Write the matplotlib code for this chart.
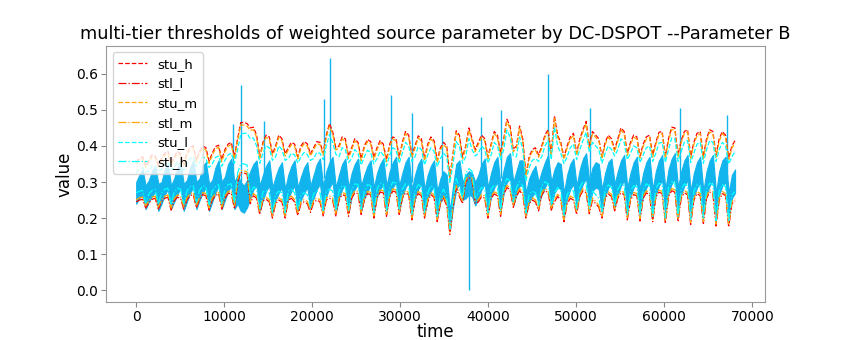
import numpy as np
import matplotlib
matplotlib.use("Agg")
import matplotlib.pyplot as plt

# sampling step of the stored series (time units)
STEP = 360

# upper thresholds
stu_h = [
    .355, .365, .370, .345,  .360, .375, .372, .348,  .365, .380, .385, .352,
    .370, .385, .378, .350,  .380, .395, .400, .360,  .385, .400, .395, .358,
    .380, .398, .402, .362,  .390, .405, .410, .370,  .420, .465, .465, .462,
    .450, .452, .430, .370,  .410, .430, .425, .378,  .400, .430, .420, .378,
    .395, .410, .405, .370,  .400, .412, .406, .378,  .395, .412, .410, .380,
    .430, .462, .440, .395,  .400, .425, .420, .372,  .395, .420, .410, .365,
    .400, .418, .412, .368,  .395, .415, .405, .362,  .405, .425, .420, .370,
    .410, .440, .430, .375,  .400, .428, .420, .365,  .405, .425, .415, .360,
    .395, .410, .400, .315,  .380, .442, .430, .370,  .400, .450, .420, .390,
    .410, .430, .420, .370,  .405, .440, .430, .380,  .420, .474, .455, .390,
    .400, .455, .420, .320,  .370, .390, .395, .375,  .400, .430, .445, .380,
    .483, .430, .410, .369,  .400, .425, .435, .380,  .420, .445, .468, .400,
    .440, .430, .420, .370,  .410, .430, .420, .390,  .420, .450, .440, .380,
    .410, .430, .425, .372,  .405, .425, .430, .375,  .410, .438, .440, .372,
    .420, .452, .450, .375,  .415, .440, .445, .372,  .410, .435, .440, .370,
    .420, .445, .440, .375,  .420, .440, .430, .368,  .400, .415,
]
stu_m = [
    .350, .360, .364, .340,  .354, .369, .366, .342,  .359, .374, .379, .346,
    .364, .379, .372, .344,  .374, .389, .394, .354,  .379, .394, .389, .352,
    .374, .392, .396, .356,  .384, .399, .404, .364,  .414, .458, .458, .455,
    .443, .445, .424, .364,  .404, .424, .419, .372,  .394, .424, .414, .372,
    .389, .404, .399, .364,  .394, .406, .400, .372,  .389, .406, .404, .374,
    .424, .455, .434, .389,  .394, .419, .414, .366,  .389, .414, .404, .359,
    .394, .412, .406, .362,  .389, .409, .399, .356,  .399, .419, .414, .364,
    .404, .434, .424, .369,  .394, .422, .414, .359,  .399, .419, .409, .354,
    .389, .404, .394, .309,  .374, .436, .424, .364,  .394, .444, .414, .384,
    .404, .424, .414, .364,  .399, .434, .424, .374,  .414, .467, .449, .384,
    .394, .449, .414, .314,  .364, .384, .389, .369,  .394, .424, .439, .374,
    .476, .424, .404, .363,  .394, .419, .429, .374,  .414, .439, .461, .394,
    .434, .424, .414, .364,  .404, .424, .414, .384,  .414, .444, .434, .374,
    .404, .424, .419, .366,  .399, .419, .424, .369,  .404, .432, .434, .366,
    .414, .446, .444, .369,  .409, .434, .439, .366,  .404, .429, .434, .364,
    .414, .439, .434, .369,  .414, .434, .424, .362,  .394, .409,
]
stu_l = [
    .325, .335, .340, .327,  .330, .345, .342, .330,  .335, .350, .355, .334,
    .340, .355, .348, .332,  .350, .365, .370, .342,  .355, .370, .365, .340,
    .350, .368, .372, .344,  .360, .375, .380, .352,  .390, .432, .435, .435,
    .420, .422, .400, .352,  .380, .400, .395, .360,  .370, .400, .390, .360,
    .365, .380, .375, .352,  .370, .382, .376, .360,  .365, .382, .380, .362,
    .400, .432, .410, .377,  .370, .395, .390, .354,  .365, .390, .380, .347,
    .370, .388, .382, .350,  .365, .385, .375, .344,  .375, .395, .390, .352,
    .380, .410, .400, .357,  .370, .398, .390, .347,  .375, .395, .385, .342,
    .365, .380, .370, .297,  .350, .412, .400, .352,  .370, .420, .390, .372,
    .380, .400, .390, .352,  .375, .410, .400, .362,  .390, .444, .425, .372,
    .370, .425, .390, .302,  .340, .360, .365, .357,  .370, .400, .415, .362,
    .453, .400, .380, .351,  .370, .395, .405, .362,  .390, .415, .438, .382,
    .410, .400, .390, .352,  .380, .400, .390, .372,  .390, .420, .410, .362,
    .380, .400, .395, .354,  .375, .395, .400, .357,  .380, .408, .410, .354,
    .390, .422, .420, .357,  .385, .410, .415, .354,  .380, .405, .410, .352,
    .390, .415, .410, .357,  .390, .410, .400, .350,  .370, .385,
]

# lower thresholds
stl_l = [
    .245, .250, .252, .228,  .242, .252, .255, .225,  .245, .255, .258, .222,
    .248, .258, .255, .225,  .250, .262, .265, .228,  .252, .265, .262, .222,
    .250, .262, .268, .225,  .255, .268, .270, .225,  .300, .326, .325, .322,
    .240, .262, .255, .210,  .248, .252, .245, .200,  .240, .250, .245, .200,
    .250, .255, .245, .207,  .240, .245, .240, .216,  .243, .250, .245, .206,
    .250, .255, .250, .206,  .250, .265, .262, .205,  .255, .270, .268, .210,
    .250, .268, .265, .200,  .255, .272, .270, .205,  .258, .275, .272, .210,
    .255, .270, .265, .195,  .250, .268, .262, .200,  .245, .265, .258, .190,
    .240, .255, .235, .155,  .230, .285, .260, .240,  .300, .312, .305, .240,
    .245, .260, .255, .200,  .255, .267, .262, .205,  .265, .285, .278, .230,
    .260, .276, .265, .200,  .240, .250, .245, .220,  .265, .276, .270, .222,
    .245, .260, .250, .190,  .240, .255, .250, .210,  .260, .276, .270, .212,
    .250, .240, .230, .200,  .255, .267, .260, .220,  .255, .270, .265, .195,
    .250, .265, .262, .192,  .255, .270, .265, .190,  .258, .272, .268, .185,
    .260, .276, .272, .190,  .255, .270, .265, .182,  .250, .268, .262, .185,
    .255, .272, .268, .178,  .250, .268, .262, .175,  .240, .248,
]
stl_m = [
    .251, .256, .258, .234,  .248, .258, .261, .231,  .251, .261, .264, .228,
    .254, .264, .261, .231,  .256, .268, .271, .234,  .258, .271, .268, .228,
    .256, .268, .274, .231,  .261, .274, .276, .231,  .306, .332, .331, .328,
    .246, .268, .261, .216,  .254, .258, .251, .206,  .246, .256, .251, .206,
    .256, .261, .251, .213,  .246, .251, .246, .222,  .249, .256, .251, .212,
    .256, .261, .256, .212,  .256, .271, .268, .211,  .261, .276, .274, .216,
    .256, .274, .271, .206,  .261, .278, .276, .211,  .264, .281, .278, .216,
    .261, .276, .271, .201,  .256, .274, .268, .206,  .251, .271, .264, .196,
    .246, .261, .241, .161,  .236, .291, .266, .246,  .306, .318, .311, .246,
    .251, .266, .261, .206,  .261, .273, .268, .211,  .271, .291, .284, .236,
    .266, .282, .271, .206,  .246, .256, .251, .226,  .271, .282, .276, .228,
    .251, .266, .256, .196,  .246, .261, .256, .216,  .266, .282, .276, .218,
    .256, .246, .236, .206,  .261, .273, .266, .226,  .261, .276, .271, .201,
    .256, .271, .268, .198,  .261, .276, .271, .196,  .264, .278, .274, .191,
    .266, .282, .278, .196,  .261, .276, .271, .188,  .256, .274, .268, .191,
    .261, .278, .274, .184,  .256, .274, .268, .181,  .246, .254,
]
stl_h = [
    .270, .275, .277, .243,  .267, .277, .280, .240,  .270, .280, .283, .237,
    .273, .283, .280, .240,  .275, .287, .290, .243,  .277, .290, .287, .237,
    .275, .287, .293, .240,  .280, .293, .295, .240,  .325, .351, .350, .347,
    .265, .287, .280, .225,  .273, .277, .270, .215,  .265, .275, .270, .215,
    .275, .280, .270, .222,  .265, .270, .265, .231,  .268, .275, .270, .221,
    .275, .280, .275, .221,  .275, .290, .287, .220,  .280, .295, .293, .225,
    .275, .293, .290, .215,  .280, .297, .295, .220,  .283, .300, .297, .225,
    .280, .295, .290, .210,  .275, .293, .287, .215,  .270, .290, .283, .205,
    .265, .280, .260, .170,  .255, .310, .285, .255,  .325, .337, .330, .255,
    .270, .285, .280, .215,  .280, .292, .287, .220,  .290, .310, .303, .245,
    .285, .301, .290, .215,  .265, .275, .270, .235,  .290, .301, .295, .237,
    .270, .285, .275, .205,  .265, .280, .275, .225,  .285, .301, .295, .227,
    .275, .265, .255, .215,  .280, .292, .285, .235,  .280, .295, .290, .210,
    .275, .290, .287, .207,  .280, .295, .290, .205,  .283, .297, .293, .200,
    .285, .301, .297, .205,  .280, .295, .290, .197,  .275, .293, .287, .200,
    .280, .297, .293, .193,  .275, .293, .287, .190,  .265, .273,
]

# weighted source parameter: upper / lower edge of the dense signal band
signal_hi = [
    .300, .320, .335, .290,  .305, .330, .345, .295,  .300, .335, .350, .290,
    .310, .340, .355, .295,  .305, .340, .360, .300,  .310, .345, .355, .295,
    .305, .340, .360, .300,  .315, .350, .365, .300,  .320, .300, .290, .305,
    .330, .350, .360, .290,  .320, .345, .360, .285,  .315, .340, .355, .280,
    .320, .345, .360, .285,  .315, .340, .355, .290,  .320, .350, .365, .290,
    .330, .355, .370, .285,  .320, .350, .365, .285,  .325, .350, .365, .290,
    .320, .345, .360, .285,  .325, .350, .365, .290,  .330, .355, .370, .290,
    .325, .355, .370, .280,  .320, .350, .365, .280,  .320, .345, .360, .275,
    .310, .330, .320, .220,  .290, .350, .360, .300,  .320, .330, .325, .300,
    .320, .350, .365, .285,  .325, .355, .370, .290,  .335, .370, .380, .300,
    .330, .360, .360, .270,  .310, .330, .345, .300,  .330, .355, .375, .300,
    .335, .355, .350, .270,  .320, .350, .365, .290,  .335, .365, .380, .300,
    .340, .355, .350, .280,  .325, .355, .365, .295,  .330, .360, .375, .285,
    .325, .355, .370, .280,  .325, .355, .370, .280,  .330, .360, .375, .280,
    .335, .365, .380, .285,  .330, .360, .375, .275,  .325, .355, .370, .275,
    .330, .360, .375, .270,  .330, .360, .370, .270,  .320, .335,
]
signal_lo = [
    .240, .255, .265, .225,  .245, .260, .275, .220,  .240, .265, .280, .225,
    .245, .265, .285, .220,  .245, .270, .285, .225,  .250, .270, .285, .220,
    .245, .270, .290, .225,  .250, .275, .290, .225,  .240, .220, .215, .230,
    .255, .280, .290, .220,  .250, .275, .290, .215,  .250, .270, .285, .215,
    .255, .275, .290, .220,  .250, .270, .285, .225,  .255, .280, .295, .220,
    .260, .285, .300, .215,  .255, .280, .295, .215,  .260, .280, .295, .220,
    .255, .275, .290, .215,  .260, .280, .295, .220,  .265, .285, .300, .220,
    .260, .285, .300, .210,  .255, .280, .295, .210,  .255, .275, .290, .205,
    .245, .260, .250, .165,  .230, .280, .295, .250,  .255, .265, .260, .235,
    .255, .280, .295, .215,  .260, .285, .300, .220,  .270, .300, .310, .235,
    .265, .290, .290, .210,  .245, .260, .275, .240,  .265, .285, .305, .235,
    .270, .285, .280, .205,  .255, .280, .295, .225,  .270, .295, .310, .235,
    .275, .285, .280, .215,  .260, .285, .295, .230,  .265, .290, .305, .220,
    .260, .285, .300, .215,  .260, .285, .300, .215,  .265, .290, .305, .215,
    .270, .295, .310, .220,  .265, .290, .305, .210,  .260, .285, .300, .210,
    .265, .290, .305, .205,  .265, .290, .300, .205,  .255, .270,
]

# isolated excursions of the signal
spike_time = [11020, 11930, 14550, 21360, 22050, 28980, 31360, 34770,
              37840, 39200, 41480, 46820, 51590, 61820, 67160]
spike_base = [0.30, 0.30, 0.31, 0.31, 0.32, 0.31, 0.30, 0.30,
              0.27, 0.30, 0.31, 0.32, 0.31, 0.31, 0.31]
spike_peak = [0.46, 0.57, 0.47, 0.53, 0.645, 0.54, 0.49, 0.455,
              0.0, 0.48, 0.50, 0.60, 0.505, 0.505, 0.485]

t = np.arange(len(stu_h)) * STEP

fig = plt.figure(figsize=(8.5, 3.4), dpi=100)
ax = fig.add_axes([0.125, 0.112, 0.775, 0.753])

sig_color = "#12b4ee"
ax.fill_between(t, signal_lo, signal_hi, color=sig_color, lw=0.8,
                edgecolor=sig_color, zorder=2)
ax.vlines(spike_time, spike_base, spike_peak, color=sig_color, lw=1.0, zorder=2)

series = [
    ("stu_h", stu_h, "red", "--"),
    ("stl_l", stl_l, "red", "-."),
    ("stu_m", stu_m, "orange", "--"),
    ("stl_m", stl_m, "orange", "-."),
    ("stu_l", stu_l, "cyan", "--"),
    ("stl_h", stl_h, "cyan", "-."),
]
for name, vals, col, ls in series:
    ax.plot(t, vals, color=col, ls=ls, lw=0.9, label=name, zorder=3)

ax.set_title("multi-tier thresholds of weighted source parameter by DC-DSPOT --Parameter B",
             fontsize=12.8, pad=5)
ax.set_xlabel("time", fontsize=12, labelpad=-1)
ax.set_ylabel("value", fontsize=12, labelpad=2)
ax.tick_params(labelsize=10, color="#888888", pad=2.5)
for sp in ax.spines.values():
    sp.set_color("#999999")
ax.legend(loc="upper left", fontsize=9.5, handlelength=2.2)

fig.savefig("out.png", dpi=100)
